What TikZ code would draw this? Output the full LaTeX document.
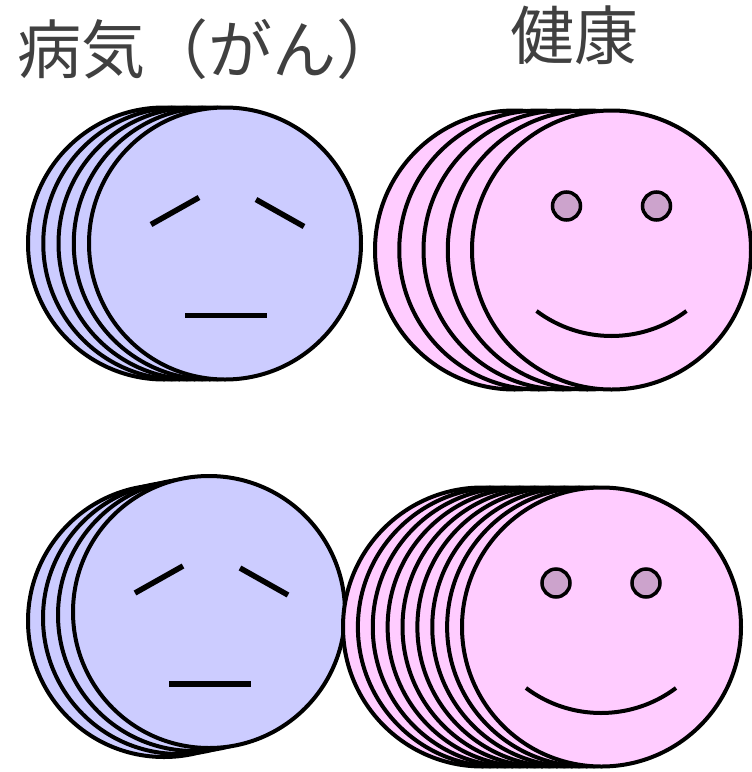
\documentclass[tikz,border=0pt]{standalone}
\usepackage{fontspec}
\newfontfamily\jpfont{Noto Sans CJK JP}
\definecolor{sadblue}{HTML}{CCCCFF}
\definecolor{happypink}{HTML}{FFCCFF}
\definecolor{eyepurple}{HTML}{CCA3CC}
\definecolor{labelgray}{HTML}{404040}
\tikzset{
  sadring/.style={draw=black, fill=sadblue, line width=4pt},
  happyring/.style={draw=black, fill=happypink, line width=4pt},
  stroke/.style={draw=black, line width=5.5pt, line cap=butt},
  eyedot/.style={draw=black, fill=eyepurple, line width=3.5pt},
  smileline/.style={draw=black, line width=4pt, line cap=butt},
  headline/.style={text=labelgray, inner sep=0pt, font=\jpfont\fontsize{64pt}{64pt}\selectfont},
  pics/sadfeatures/.style={code={
    \draw[stroke] (-75,-19) -- (-27,-46);
    \draw[stroke] (30,-44) -- (78,-17);
    \draw[stroke] (-41,72) -- (41,72);
  }},
  pics/happyfeatures/.style={code={
    \draw[eyedot] (-45,-44) circle[radius=14];
    \draw[eyedot] (45,-44) circle[radius=14];
    \draw[smileline] (-75,61) arc[start angle=126.87, end angle=53.13, radius=125];
  }}
}
\begin{document}
\begin{tikzpicture}[x=1pt, y=-1pt]
  \useasboundingbox (0,0) rectangle (752,772);

  % headings
  \node[headline, anchor=base] (sick) at (209,73.5) {病気（がん）};
  \node[headline, anchor=base] (healthy) at (574.5,59) {健康};

  % upper row: sad stack of five, happy stack of five
  \foreach \i in {0,...,4}
    \draw[sadring] ({164+15.25*\i},243.5) circle[radius=136];
  \pic at (226,243.5) {sadfeatures};

  \foreach \i in {0,...,4}
    \draw[happyring] ({514.5+24.25*\i},250) circle[radius=139.5];
  \pic at (611.5,250) {happyfeatures};

  % lower row: sad stack of four, happy stack of nine
  \foreach \i in {0,...,3}
    \draw[sadring] ({164+15*\i},{621-3*\i}) circle[radius=136];
  \pic at (210,612) {sadfeatures};

  \foreach \i in {0,...,8}
    \draw[happyring] ({482.5+14.875*\i},627) circle[radius=139.5];
  \pic at (601,627) {happyfeatures};
\end{tikzpicture}
\end{document}
